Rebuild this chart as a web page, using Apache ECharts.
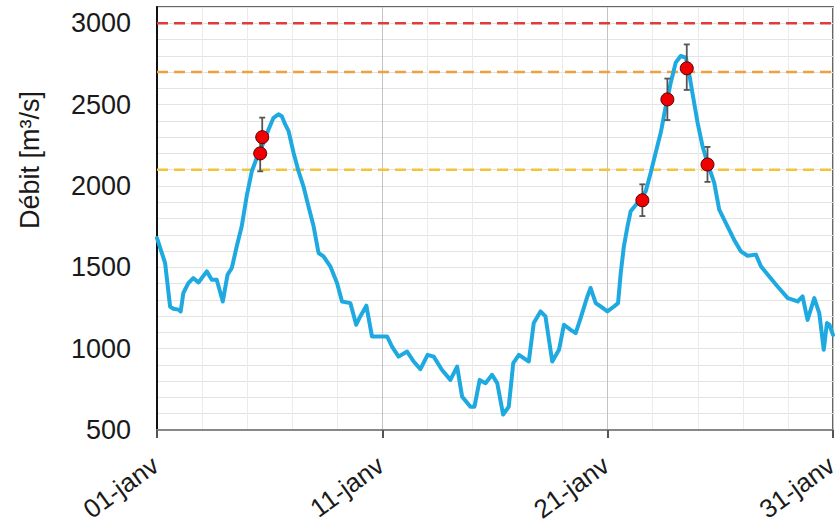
<!DOCTYPE html>
<html><head><meta charset="utf-8">
<script src="https://cdn.jsdelivr.net/npm/echarts@6/dist/echarts.min.js"></script>
<style>html,body{margin:0;padding:0;background:#fff}#c{width:839px;height:528px}</style>
</head><body><div id="c"></div>
<script>
// Day index from 01-janv (0) to 31-janv (30)
const flowDays = [0.00,0.36,0.58,0.73,0.95,1.05,1.17,1.39,1.61,1.84,2.21,2.43,2.65,2.92,3.13,3.32,3.54,3.76,3.98,4.21,4.43,4.72,4.95,5.17,5.39,5.54,5.69,5.84,6.06,6.28,6.50,6.72,6.95,7.17,7.39,7.69,7.99,8.21,8.58,8.84,9.02,9.29,9.54,9.84,10.21,10.43,10.72,11.10,11.39,11.69,12.01,12.28,12.65,13.02,13.32,13.54,13.91,14.09,14.32,14.58,14.87,15.10,15.36,15.61,15.81,16.06,16.50,16.72,17.02,17.24,17.54,17.84,18.06,18.36,18.58,18.80,19.10,19.24,19.47,19.69,19.99,20.28,20.46,20.58,20.72,20.88,21.02,21.32,21.69,21.91,22.13,22.36,22.58,22.80,23.02,23.24,23.47,23.61,23.76,23.99,24.21,24.43,24.73,24.95,25.24,25.61,25.91,26.21,26.58,26.80,27.17,27.54,27.99,28.43,28.65,28.87,29.17,29.39,29.59,29.73,29.84,30.00];
const flowValues = [1680,1526,1259,1245,1240,1228,1342,1403,1434,1407,1475,1424,1424,1290,1454,1496,1629,1752,1937,2091,2173,2265,2347,2419,2440,2429,2378,2337,2204,2091,1998,1875,1752,1588,1567,1506,1403,1290,1280,1147,1198,1264,1075,1075,1075,1013,951,982,921,874,962,951,869,808,890,705,643,643,808,788,839,788,595,643,911,962,921,1157,1229,1198,921,993,1147,1116,1095,1188,1321,1373,1280,1259,1229,1259,1280,1465,1629,1752,1844,1896,1967,2081,2204,2330,2491,2635,2758,2799,2789,2696,2573,2389,2244,2142,2019,1855,1773,1670,1598,1571,1578,1506,1444,1382,1311,1290,1321,1177,1311,1219,993,1157,1147,1085];

const obsDays   = [4.58, 4.67, 21.54, 22.65, 23.51, 24.43];
const obsValues = [2200, 2300, 1912, 2532, 2723, 2132];
const obsLow    = [2090, 2185, 1815, 2405, 2590, 2025];
const obsHigh   = [2310, 2420, 2010, 2660, 2870, 2240];

const thresholdValues = [3000, 2700, 2100];

const xTickValues = [0, 10, 20, 30];
const xTickLabels = ['01-janv', '11-janv', '21-janv', '31-janv'];
const yTickValues = [500, 1000, 1500, 2000, 2500, 3000];
const yAxisTitle = 'Débit [m³/s]';

const thresholdColors = ['#e23b3b', '#eea13c', '#f0c53a'];
const FONT = '"Liberation Sans", Arial, sans-serif';

const chart = echarts.init(document.getElementById('c'), null, {renderer: 'svg'});

const thresholdSeries = thresholdValues.map((v, i) => ({
  type: 'line',
  data: [[0, v], [30, v]],
  showSymbol: false,
  silent: true,
  z: 1,
  lineStyle: {color: thresholdColors[i], width: 2.5, type: [11, 6]}
}));

chart.setOption({
  animation: false,
  backgroundColor: '#fff',
  grid: {left: 157, right: 6, top: 7, bottom: 98, show: true, borderColor: '#333', borderWidth: 1.5, outerBoundsMode: 'none'},
  xAxis: {
    type: 'value', min: 0, max: 30, interval: 10,
    axisLine: {show: true, onZero: false, lineStyle: {color: '#888', width: 2}},
    axisTick: {show: true, length: 8, lineStyle: {color: '#555', width: 2}},
    axisLabel: {
      rotate: 36, fontSize: 26, fontFamily: FONT, color: '#1a1a1a', margin: 31, padding: [0, 2, 0, 0],
      formatter: v => { const k = xTickValues.indexOf(v); return k >= 0 ? xTickLabels[k] : ''; }
    },
    splitLine: {show: true, lineStyle: {color: '#c4c4c4', width: 1}},
    minorTick: {show: false, splitNumber: 5},
    minorSplitLine: {show: true, lineStyle: {color: '#ebebeb', width: 1}}
  },
  yAxis: {
    type: 'value', min: 500, max: 3100, interval: 100,
    axisLine: {show: true, lineStyle: {color: '#111', width: 2}},
    axisTick: {show: false},
    axisLabel: {
      fontSize: 27, fontFamily: FONT, color: '#1a1a1a', margin: 26,
      formatter: v => yTickValues.indexOf(v) >= 0 ? String(v) : ''
    },
    splitLine: {show: true, lineStyle: {color: '#e3e3e3', width: 1}}
  },
  graphic: [{
    type: 'text', x: 30, y: 160, rotation: Math.PI / 2,
    style: {text: yAxisTitle, fontSize: 27, fontFamily: FONT, fill: '#1a1a1a', textAlign: 'center', textVerticalAlign: 'middle'}
  }],
  series: [
    ...thresholdSeries,
    {
      type: 'line',
      data: flowDays.map((d, i) => [d, flowValues[i]]),
      showSymbol: false, z: 3,
      lineStyle: {color: '#1ea9e1', width: 4, join: 'round', cap: 'round'}
    },
    {
      type: 'custom', z: 4,
      data: obsDays.map((d, i) => [d, obsLow[i], obsHigh[i]]),
      encode: {x: 0, y: [1, 2]},
      renderItem: (params, api) => {
        const x = api.value(0);
        const lo = api.coord([x, api.value(1)]);
        const hi = api.coord([x, api.value(2)]);
        const w = 3;
        const st = {stroke: '#555', lineWidth: 1.8};
        return {type: 'group', children: [
          {type: 'line', shape: {x1: lo[0], y1: lo[1], x2: hi[0], y2: hi[1]}, style: st},
          {type: 'line', shape: {x1: lo[0] - w, y1: lo[1], x2: lo[0] + w, y2: lo[1]}, style: st},
          {type: 'line', shape: {x1: hi[0] - w, y1: hi[1], x2: hi[0] + w, y2: hi[1]}, style: st}
        ]};
      }
    },
    {
      type: 'scatter', z: 5,
      data: obsDays.map((d, i) => [d, obsValues[i]]),
      symbolSize: 13,
      itemStyle: {color: '#f00000', borderColor: '#5a0000', borderWidth: 1, opacity: 1}
    }
  ]
});
</script></body></html>
